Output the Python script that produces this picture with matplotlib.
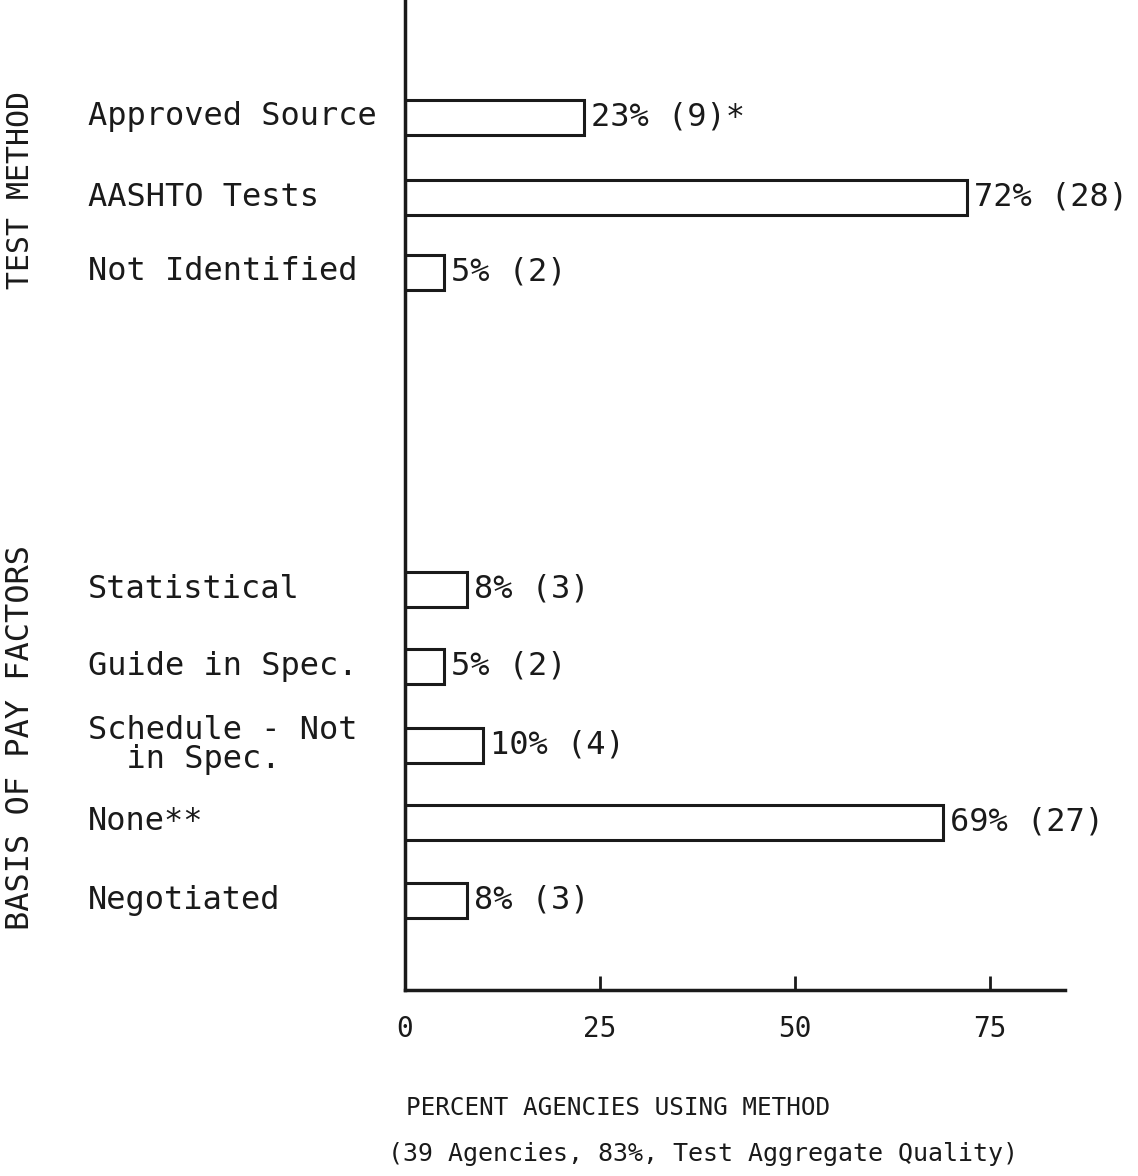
import matplotlib.pyplot as plt

# data
test_labels = ['Approved Source', 'AASHTO Tests', 'Not Identified']
test_pct = [23, 72, 5]
test_n = [9, 28, 2]
test_marks = ['*', '', '']

pay_labels = ['Statistical', 'Guide in Spec.', 'Schedule - Not\n  in Spec.', 'None**', 'Negotiated']
pay_pct = [8, 5, 10, 69, 8]
pay_n = [3, 2, 4, 27, 3]
pay_marks = ['', '', '', '', '']

ticks = [0, 25, 50, 75]

# layout (pixel rows of the original page)
test_rows = [117, 197, 272]
pay_rows = [589, 666, 745, 822, 900]

W, H = 1138, 1176
font = 'DejaVu Sans Mono'
plt.rcParams['font.family'] = font
ink = '#1a1a1a'

fig = plt.figure(figsize=(W / 100, H / 100), dpi=100)
ax = fig.add_axes([405 / W, (H - 990) / H, 660 / W, 990 / H])
ax.set_xlim(0, 660 / 7.8)
ax.set_ylim(990, 0)

labels = test_labels + pay_labels
pct = test_pct + pay_pct
cnt = test_n + pay_n
marks = test_marks + pay_marks
rows = test_rows + pay_rows

ax.barh(rows, pct, height=35, color='white', edgecolor=ink, linewidth=2.2)

for y, p, n, m, lab in zip(rows, pct, cnt, marks, labels):
    ax.text(p + 0.9, y, '%d%% (%d)%s' % (p, n, m), fontsize=23, va='center', ha='left', color=ink)
    fig.text(88 / W, 1 - y / H, lab, fontsize=23, va='center', ha='left', color=ink,
             linespacing=0.9)

# group titles
fig.text(21 / W, 1 - 190 / H, 'TEST METHOD', rotation=90, fontsize=21.5, va='center', ha='center', color=ink)
fig.text(21 / W, 1 - 737 / H, 'BASIS OF PAY FACTORS', rotation=90, fontsize=23, va='center', ha='center', color=ink)

for s in ['top', 'right']:
    ax.spines[s].set_visible(False)
ax.spines['left'].set_linewidth(2.5)
ax.spines['bottom'].set_linewidth(2.5)
ax.spines['left'].set_color(ink)
ax.spines['bottom'].set_color(ink)
ax.set_yticks([])
ax.set_xticks(ticks)
ax.set_xticklabels([str(t) for t in ticks], fontsize=20, color=ink)
ax.tick_params(axis='x', direction='in', length=10, width=2, pad=18, colors=ink)

fig.text(618 / W, 1 - 1108 / H, 'PERCENT AGENCIES USING METHOD', fontsize=17.5, ha='center', va='center', color=ink)
fig.text(703 / W, 1 - 1154 / H, '(39 Agencies, 83%, Test Aggregate Quality)', fontsize=18, ha='center', va='center', color=ink)

fig.savefig('out.png', dpi=100, facecolor='white')
